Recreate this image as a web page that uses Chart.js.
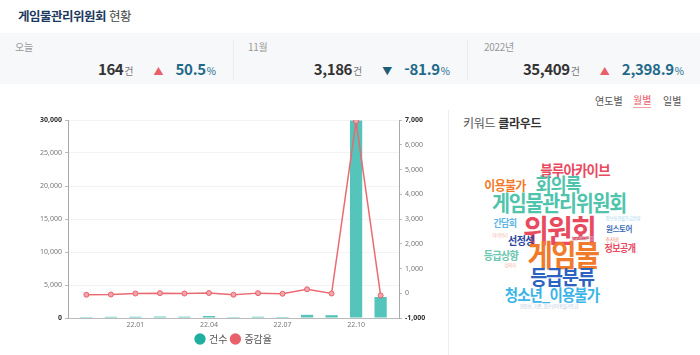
<!DOCTYPE html>
<html lang="ko">
<head>
<meta charset="utf-8">
<script src="https://cdn.jsdelivr.net/npm/chart.js@4.4.1/dist/chart.umd.min.js"></script>
<style>
  html, body { margin:0; padding:0; }
  body { width:700px; height:355px; overflow:hidden; background:#fff; position:relative;
         font-family:"Noto Sans CJK KR","Noto Sans",sans-serif; color:#333; }
  .abs { position:absolute; white-space:nowrap; }
  #title { left:18px; top:6px; font-size:12.5px; letter-spacing:-0.5px; line-height:20px; }
  #title b { color:#1d3a5f; font-weight:700; }
  #title span { color:#444; }
  #band { left:0; top:33px; width:700px; height:51px; background:#f7f8f9; }
  .sep { position:absolute; top:40px; width:1px; height:40px; background:#ececec; }
  .lbl { position:absolute; top:39px; font-size:10px; color:#999; line-height:16px; letter-spacing:-0.3px; }
  .stat { position:absolute; top:58px; height:22px; display:flex; align-items:baseline; justify-content:flex-end; }
  .num { font-size:15px; font-weight:700; color:#333; letter-spacing:-0.4px; }
  .unit { font-size:10px; color:#777; margin-left:1px; }
  .tri { font-size:10px; margin:0 12px 0 20px; }
  .up { color:#e8606a; }
  .down { color:#1f5c78; }
  .pct { font-size:15px; font-weight:700; color:#1f6a8a; letter-spacing:-0.3px; }
  .pcu { font-size:10px; color:#1f6a8a; margin-left:1px; }
  #tabs { top:93px; font-size:10px; color:#555; line-height:16px; }
  #tabs span { position:absolute; }
  #panel { left:448px; top:110px; width:1px; height:245px; background:#eee; }
  #kw { left:463px; top:115px; font-size:12px; line-height:16px; color:#555; letter-spacing:-0.3px; }
  #kw b { color:#333; }
  .w { position:absolute; white-space:nowrap; font-weight:700; transform:translate(-50%,-50%) scaleY(1.08); line-height:1; letter-spacing:-0.06em; }
  #chartBox { position:absolute; left:0; top:105px; width:468px; height:250px; }
</style>
</head>
<body>
<div id="title" class="abs"><b>게임물관리위원회</b> <span>현황</span></div>
<div id="band" class="abs"></div>
<div class="sep" style="left:233px"></div>
<div class="sep" style="left:467px"></div>

<div class="lbl" style="left:15px">오늘</div>
<div class="stat" style="left:20px;width:196px"><span class="num">164</span><span class="unit">건</span><span class="tri up">▲</span><span class="pct">50.5</span><span class="pcu">%</span></div>

<div class="lbl" style="left:248px">11월</div>
<div class="stat" style="left:250px;width:200px"><span class="num">3,186</span><span class="unit">건</span><span class="tri down">▼</span><span class="pct">-81.9</span><span class="pcu">%</span></div>

<div class="lbl" style="left:484px">2022년</div>
<div class="stat" style="left:480px;width:204px"><span class="num">35,409</span><span class="unit">건</span><span class="tri up">▲</span><span class="pct">2,398.9</span><span class="pcu">%</span></div>

<div id="tabs" class="abs" style="left:0;width:700px">
  <span style="left:595px">연도별</span>
  <span style="left:633px;color:#e8606a;border-bottom:1px solid #f0a0a5;line-height:14px">월별</span>
  <span style="left:663px">일별</span>
</div>
<div id="panel" class="abs"></div>
<div id="kw" class="abs">키워드 <b>클라우드</b></div>

<div id="cloud"></div>

<div id="chartBox"><canvas id="c"></canvas></div>

<script>
// ---- data ----
const categories = ['21.11','21.12','22.01','22.02','22.03','22.04','22.05','22.06','22.07','22.08','22.09','22.10','22.11'];
const counts     = [140, 180, 190, 210, 200, 300, 140, 190, 150, 480, 430, 29933, 3186];
const rates      = [-60, -50, -10, 5, -10, 10, -60, 5, -20, 160, -10, 6950, -89];
const tickLabels = ['22.01','22.04','22.07','22.10'];
const seriesNames = ['건수','증감율'];
const legendColors = ['#1fae9f','#e8606a'];

// word cloud
const words   = ['블루아카이브','이용불가','회의록','게임물관리위원회','간담회','위원회','정보표현물등급분류','원스토어','아이언리','선정성','추진비','한국게임산업','게임물','정보공개','등급상향','심의자','등급분류','청소년_이용불가','현원보_기준_청소년이용불가등급'];
const wordX   = [575,505,558,559,505,559,623,619,500,521,612,582,563,620,501,510,562,552,549];
const wordY   = [170,185,184,202,223,229,218,228,235,241,239,238,254,248,256,265,277,295,306];
const wordSz  = [13.5,12,17.5,19.5,9,28,4.5,7.5,4.5,10,5,4.5,27.5,9,10,4.5,18.5,14.5,4.5];
const wordCol = ['#e84a5f','#f07b2c','#4fc4ad','#4fc4ad','#5ab4e5','#e84a5f','#9fd4ee','#3d6cb3','#f2b4a6','#2a46a0','#f08a70','#c8d8e8','#f07b2c','#e84a5f','#6cc6b0','#f2b4a6','#2c62c0','#3cb4e8','#b8c8e0'];

const cloud = document.getElementById('cloud');
words.forEach((w,i)=>{
  const s = document.createElement('span');
  s.className = 'w';
  s.textContent = w;
  s.style.left = wordX[i]+'px';
  s.style.top = wordY[i]+'px';
  s.style.fontSize = wordSz[i]+'px';
  s.style.color = wordCol[i];
  if (wordSz[i] < 6) s.style.fontWeight = 400;
  cloud.appendChild(s);
});

const isEdge = (ctx) => !!(ctx && ctx.tick && ctx.scale &&
  (ctx.tick.value === ctx.scale.options.min || ctx.tick.value === ctx.scale.options.max));
const tickFont = (ctx) => ({ family:'Noto Sans', size:7, weight: isEdge(ctx) ? 'bold' : 'normal' });
const tickColor = (ctx) => isEdge(ctx) ? '#333' : '#777';

new Chart(document.getElementById('c'), {
  data: {
    datasets: [
      {
        type:'bar', label: seriesNames[0],
        data: counts.map((v,i)=>({x:i, y:v})),
        backgroundColor:'#55c4bb', borderWidth:0,
        categoryPercentage:1, barPercentage:0.5,
        yAxisID:'y', order:2
      },
      {
        type:'line', label: seriesNames[1],
        data: rates.map((v,i)=>({x:i, y:v})),
        borderColor:'#ea6a72', borderWidth:1.5,
        pointRadius:2.5, pointBackgroundColor:'#f3a6ab', pointBorderColor:'#e8606a', pointBorderWidth:1,
        tension:0, yAxisID:'y1', order:1
      }
    ]
  },
  options: {
    responsive:true, maintainAspectRatio:false, animation:false,
    layout:{ padding:{ top:15, bottom:1, left:0, right:0 } },
    plugins:{
      legend:{
        position:'bottom',
        labels:{ usePointStyle:true, pointStyle:'circle', boxWidth:8, boxHeight:8, padding:4,
                 color:'#555', font:{ family:'Noto Sans CJK KR', size:10 },
                 generateLabels:(chart)=>seriesNames.map((n,i)=>({
                   text:n, fillStyle:legendColors[i], strokeStyle:legendColors[i], lineWidth:0,
                   pointStyle:'circle', datasetIndex:i, hidden:false, fontColor:'#555'
                 })) }
      },
      tooltip:{ enabled:false }
    },
    scales:{
      x:{
        type:'linear', min:-0.75, max:12.75, offset:false,
        grid:{ display:false, drawTicks:false, offset:false },
        border:{ display:true, color:'#bbb' },
        afterBuildTicks:(s)=>{ s.ticks = tickLabels.map(l=>({ value: categories.indexOf(l) })); },
        ticks:{ autoSkip:false, maxRotation:0, padding:3, color:'#777',
                font:{ family:'Noto Sans', size:7 },
                callback:(v)=>categories[v] },
        afterFit:(s)=>{ s.height = 12; }
      },
      y:{
        position:'left', min:0, max:30000,
        ticks:{ stepSize:5000, padding:3, color:tickColor, font:tickFont,
                callback:(v)=>v.toLocaleString('en-US') },
        grid:{ color:'#f3f3f3', tickLength:3, tickColor:'#bbb' },
        border:{ display:true, color:'#aaa' },
        afterFit:(s)=>{ s.width = 68; }
      },
      y1:{
        position:'right', min:-1000, max:7000,
        ticks:{ stepSize:1000, padding:3, color:tickColor, font:tickFont,
                callback:(v)=>v.toLocaleString('en-US') },
        grid:{ drawOnChartArea:false, tickLength:3, tickColor:'#bbb' },
        border:{ display:true, color:'#aaa' },
        afterFit:(s)=>{ s.width = 69; }
      }
    }
  }
});
</script>
</body>
</html>
